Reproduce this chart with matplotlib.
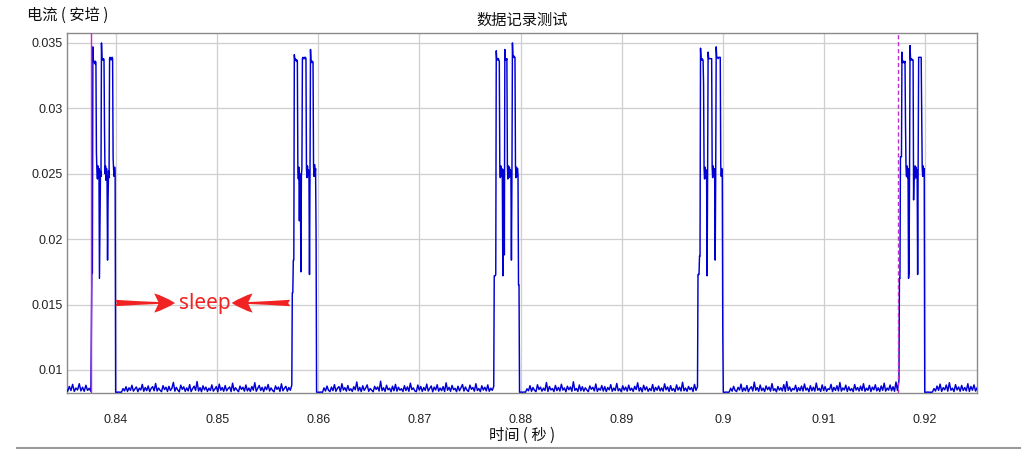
import numpy as np
import matplotlib
matplotlib.use('Agg')
import matplotlib.pyplot as plt
from matplotlib.lines import Line2D

# ---------------- data ----------------
x_ticks = [0.84, 0.85, 0.86, 0.87, 0.88, 0.89, 0.90, 0.91, 0.92]
x_tick_labels = ['0.84', '0.85', '0.86', '0.87', '0.88', '0.89', '0.9', '0.91', '0.92']
y_ticks = [0.01, 0.015, 0.02, 0.025, 0.03, 0.035]
y_tick_labels = ['0.01', '0.015', '0.02', '0.025', '0.03', '0.035']

title_text = '数据记录测试'
y_label_text = '电流 ( 安培 )'
x_label_text = '时间 ( 秒 )'
note_text = 'sleep'

t_start = 0.83505
t_end = 0.92530
burst_onsets = [0.83756, 0.85743, 0.87740, 0.89755, 0.91747]
burst_dt = 0.00005          # burst sampling interval (s)
cursor_solid_t = 0.83753
cursor_dashed_t = 0.91732

# current in mA
burst1_mA = [12.7, 17.4, 17.4, 34.7, 33.6, 33.5, 33.6, 33.4, 33.6, 33.5,
             26.6, 25.2, 24.6, 25.6, 24.8, 25.4, 17.0, 21.5, 25.2, 24.8,
             35.0, 33.7, 33.8, 33.7, 33.8, 33.7, 28.3, 25.0, 25.6, 24.5,
             25.4, 24.8, 18.4, 23.0, 25.2, 24.7, 33.8, 33.9, 33.8, 33.7,
             33.8, 33.9, 33.8, 26.2, 25.3, 24.8, 25.5, 25.0]
burst2_mA = [15.9, 15.9, 18.4, 18.4, 34.1, 33.7, 33.8, 33.7, 33.6, 33.7,
             33.6, 25.3, 24.6, 25.5, 21.4, 25.0, 24.7, 17.5, 24.9, 25.4,
             33.8, 33.9, 33.8, 33.8, 33.9, 33.8, 33.9, 33.8, 25.4, 24.7,
             25.6, 24.9, 25.3, 24.6, 17.3, 24.8, 34.5, 33.5, 33.6, 33.5,
             33.6, 33.5, 25.6, 24.8, 25.7, 24.9, 25.4, 20.6]
burst3_mA = [17.2, 17.2, 17.2, 17.3, 34.4, 33.7, 33.8, 33.7, 33.8, 33.7,
             33.6, 25.5, 24.7, 25.6, 24.8, 25.4, 24.6, 17.2, 24.9, 25.3,
             18.8, 34.5, 33.7, 33.8, 33.7, 33.8, 25.5, 24.6, 25.6, 24.7,
             25.5, 24.8, 25.3, 24.7, 18.4, 24.9, 35.0, 33.9, 33.9, 34.0,
             33.9, 33.9, 25.6, 24.7, 25.5, 24.8, 25.4, 24.9, 16.5, 16.5]
burst4_mA = [17.3, 17.3, 17.3, 18.7, 18.7, 34.6, 33.7, 33.7, 33.8, 33.7,
             33.7, 31.9, 25.4, 24.6, 25.5, 24.7, 25.3, 24.8, 17.2, 24.9,
             34.3, 33.8, 33.8, 33.8, 33.8, 33.8, 33.8, 33.8, 25.5, 24.7,
             25.6, 24.8, 25.4, 24.6, 18.4, 25.0, 34.7, 33.9, 33.9, 33.9,
             33.8, 33.9, 33.9, 33.9, 33.9, 25.6, 24.8, 25.4, 24.9, 12.8]
burst5_mA = [17.0, 17.0, 26.3, 26.3, 26.3, 34.3, 33.5, 33.5, 33.6, 33.5,
             33.5, 33.6, 28.8, 25.5, 24.8, 25.6, 24.7, 25.4, 17.0, 17.4,
             25.0, 34.8, 33.7, 33.7, 33.8, 33.7, 33.7, 33.7, 23.0, 25.5,
             24.6, 25.6, 24.8, 25.5, 24.7, 25.3, 17.3, 24.9, 33.9, 33.9,
             33.9, 33.9, 33.9, 33.9, 29.5, 25.5, 24.8, 25.6, 24.9, 25.4]

pre_mA = [8.55, 8.38, 8.74, 8.43, 8.90, 8.36, 8.62, 8.47, 8.95, 8.40,
          8.68, 8.37, 8.83, 8.44, 8.60, 8.36]
gap1_mA = [8.30, 8.30, 8.31, 8.30, 8.31, 8.58, 8.40, 8.72, 8.36, 8.64, 8.44, 8.83, 8.38, 8.55, 8.70, 8.34, 8.61, 8.47, 8.90, 8.37,
           8.66, 8.42, 8.78, 8.35, 8.59, 8.73, 8.41, 8.97, 8.39, 8.62, 8.45, 8.34, 8.80, 8.50, 8.68, 8.36, 8.75, 8.43, 8.60, 9.05,
           8.38, 8.67, 8.46, 8.33, 8.84, 8.52, 8.71, 8.37, 8.63, 8.40, 8.88, 8.35, 8.57, 8.76, 8.44, 9.12, 8.39, 8.65, 8.34, 8.79,
           8.48, 8.69, 8.36, 8.61, 8.43, 8.86, 8.38, 8.54, 8.73, 8.33, 8.92, 8.45, 8.66, 8.37, 8.81, 8.41, 8.58, 8.70, 8.35, 8.99,
           8.42, 8.64, 8.47, 8.34, 8.77, 8.51, 8.68, 8.38, 8.85, 8.40, 8.62, 8.36, 8.74, 8.46, 9.03, 8.37, 8.59, 8.82, 8.43, 8.67,
           8.35, 8.71, 8.49, 8.89, 8.39, 8.63, 8.44, 8.33, 8.78, 8.52, 8.69, 8.36, 8.94, 8.41, 8.60, 8.75, 8.38, 8.66, 8.45, 8.84]
gap2_mA = [8.31, 8.30, 8.30, 8.31, 8.30, 8.63, 8.39, 8.77, 8.45, 8.35, 8.69, 8.42, 8.88, 8.37, 8.60, 8.73, 8.34, 8.95, 8.47, 8.65,
           8.38, 8.81, 8.43, 8.56, 8.36, 8.72, 8.49, 9.08, 8.40, 8.67, 8.35, 8.79, 8.44, 8.62, 8.86, 8.37, 8.58, 8.46, 8.33, 8.75,
           8.51, 8.70, 8.39, 9.14, 8.42, 8.64, 8.36, 8.83, 8.48, 8.61, 8.34, 8.76, 8.41, 8.90, 8.38, 8.68, 8.45, 8.57, 8.35, 8.80,
           8.43, 8.71, 8.37, 8.99, 8.50, 8.63, 8.40, 8.34, 8.85, 8.46, 8.74, 8.36, 8.66, 8.44, 8.92, 8.39, 8.59, 8.78, 8.33, 8.69,
           8.47, 8.87, 8.38, 8.62, 8.42, 8.73, 8.35, 9.02, 8.45, 8.67, 8.37, 8.82, 8.49, 8.60, 8.34, 8.76, 8.41, 8.64, 8.89, 8.39,
           8.70, 8.46, 8.36, 8.84, 8.52, 8.66, 8.38, 8.95, 8.43, 8.58, 8.35, 8.79, 8.47, 8.68, 8.40, 8.86, 8.37, 8.61, 8.44, 8.74]
gap3_mA = [8.30, 8.31, 8.30, 8.32, 8.30, 8.56, 8.41, 8.80, 8.37, 8.66, 8.45, 8.34, 8.87, 8.50, 8.69, 8.38, 8.61, 8.43, 9.04, 8.36,
           8.74, 8.47, 8.58, 8.35, 8.82, 8.42, 8.67, 8.39, 8.91, 8.46, 8.63, 8.33, 8.76, 8.49, 8.70, 8.37, 9.10, 8.44, 8.59, 8.36,
           8.85, 8.41, 8.72, 8.38, 8.64, 8.47, 8.34, 8.78, 8.52, 8.68, 8.40, 8.93, 8.36, 8.60, 8.45, 8.81, 8.39, 8.73, 8.35, 8.66,
           8.48, 8.88, 8.37, 8.62, 8.43, 8.97, 8.41, 8.57, 8.34, 8.79, 8.46, 8.69, 8.38, 8.84, 8.44, 8.61, 8.36, 8.75, 8.50, 9.02,
           8.39, 8.65, 8.33, 8.83, 8.47, 8.71, 8.37, 8.59, 8.42, 8.89, 8.35, 8.67, 8.45, 8.77, 8.40, 8.63, 8.38, 8.94, 8.48, 8.70,
           8.36, 8.80, 8.43, 8.58, 8.34, 8.86, 8.46, 8.68, 8.39, 9.06, 8.41, 8.62, 8.37, 8.74, 8.49, 8.66, 8.35, 8.90, 8.44, 8.72]
gap4_mA = [8.30, 8.30, 8.31, 8.30, 8.31, 8.60, 8.38, 8.75, 8.44, 8.35, 8.67, 8.47, 8.92, 8.36, 8.63, 8.41, 8.81, 8.34, 8.58, 8.72,
           8.39, 9.07, 8.45, 8.66, 8.37, 8.85, 8.42, 8.61, 8.35, 8.78, 8.49, 8.69, 8.38, 8.96, 8.43, 8.57, 8.33, 8.74, 8.46, 8.64,
           8.40, 8.88, 8.36, 9.11, 8.44, 8.70, 8.37, 8.59, 8.48, 8.83, 8.35, 8.65, 8.42, 8.77, 8.39, 8.93, 8.46, 8.62, 8.34, 8.80,
           8.41, 8.68, 8.38, 9.00, 8.45, 8.60, 8.36, 8.86, 8.43, 8.73, 8.37, 8.57, 8.50, 8.90, 8.35, 8.67, 8.44, 8.79, 8.40, 9.04,
           8.38, 8.63, 8.47, 8.84, 8.36, 8.71, 8.42, 8.58, 8.34, 8.89, 8.46, 8.66, 8.39, 8.76, 8.43, 8.95, 8.37, 8.61, 8.45, 8.82,
           8.35, 8.69, 8.48, 8.87, 8.40, 8.64, 8.36, 8.78, 8.44, 8.99, 8.38, 8.62, 8.46, 8.85, 8.41, 8.72, 8.37, 9.08, 8.43, 9.18]
post_mA = [8.30, 8.30, 8.31, 8.30, 8.30, 8.31, 8.58, 8.39, 8.77, 8.44,
           8.92, 8.36, 8.65, 8.48, 8.85, 8.38, 9.03, 8.45, 8.61, 8.35,
           8.88, 8.47, 8.70, 8.37, 8.82, 8.43, 8.66, 8.40, 8.95, 8.36,
           8.74, 8.45, 8.86, 8.39, 8.63, 8.80]

bursts = [burst1_mA, burst2_mA, burst3_mA, burst4_mA, burst5_mA]
gaps = [gap1_mA, gap2_mA, gap3_mA, gap4_mA, post_mA]

# assemble the sampled series (idle samples end just before each burst onset)
t_parts = [np.linspace(t_start, burst_onsets[0] - burst_dt, len(pre_mA))]
v_parts = [np.asarray(pre_mA)]
for k, b in enumerate(bursts):
    b = np.asarray(b)
    t_parts.append(burst_onsets[k] + burst_dt * np.arange(len(b)))
    v_parts.append(b)
    g = np.asarray(gaps[k])
    g0 = burst_onsets[k] + burst_dt * len(b)
    last = k == len(bursts) - 1
    g1 = t_end if last else burst_onsets[k + 1] - burst_dt
    t_parts.append(np.linspace(g0, g1, len(g)))
    v_parts.append(g)
t = np.concatenate(t_parts)
current = np.concatenate(v_parts) / 1000.0

# ---------------- figure ----------------
W, H = 1021, 449
fig = plt.figure(figsize=(W / 100, H / 100), dpi=100)
fig.patch.set_facecolor('white')
L, R, T, B = 67, 977, 33, 393
ax = fig.add_axes([L / W, 1 - B / H, (R - L) / W, (B - T) / H])

cjk = ['Noto Sans CJK SC', 'DejaVu Sans']
num_font = 'Liberation Sans'

ax.plot(t, current, color='#0000d4', lw=1.05, zorder=3)
ax.axvline(cursor_solid_t, color='#cc22cc', lw=1.0, zorder=4)
ax.axvline(cursor_dashed_t, color='#bb33cc', lw=1.0, ls=(0, (3, 2)), zorder=4)

ax.set_xlim(0.83515, 0.92514)
ax.set_ylim(0.00824, 0.03576)
ax.set_xticks(x_ticks)
ax.set_xticklabels(x_tick_labels, fontfamily=num_font, fontsize=9, color='#222222')
ax.set_yticks(y_ticks)
ax.set_yticklabels(y_tick_labels, fontfamily=num_font, fontsize=9, color='#222222')
ax.tick_params(axis='both', length=0)
ax.tick_params(axis='x', pad=15)
ax.tick_params(axis='y', pad=3)
ax.grid(True, color='#cfcfcf', lw=0.9, zorder=0)
ax.set_axisbelow(True)
for s in ax.spines.values():
    s.set_color('#8a8a8a')
    s.set_linewidth(1.0)

# annotation
red = '#f02222'
arrow_y = 0.01512
style = 'fancy,head_length=0.65,head_width=0.6,tail_width=0.2'
for head, tail in [((0.84583, arrow_y), (0.83990, arrow_y)),
                   ((0.85144, arrow_y), (0.85721, arrow_y))]:
    ax.annotate('', xy=head, xytext=tail,
                arrowprops=dict(arrowstyle=style, color=red, lw=0, shrinkA=0,
                                shrinkB=0, mutation_scale=23), zorder=5)
ax.text(0.84875, arrow_y, note_text, color=red, fontsize=15, family='Noto Sans',
        ha='center', va='center', zorder=6)

# texts
fig.text((L + R) / 2 / W, 1 - 20 / H, title_text, family=cjk, fontsize=11,
         ha='center', va='center', color='#111111')
fig.text(27 / W, 1 - 15 / H, y_label_text, family=cjk, fontsize=11,
         ha='left', va='center', color='#111111')
fig.text((L + R) / 2 / W, 1 - 435 / H, x_label_text, family=cjk, fontsize=11,
         ha='center', va='center', color='#111111')

fig.add_artist(Line2D([17 / W, 1], [1.5 / H, 1.5 / H], color='#9a9a9a', lw=1.5))

fig.savefig('out.png', dpi=100, facecolor='white')
